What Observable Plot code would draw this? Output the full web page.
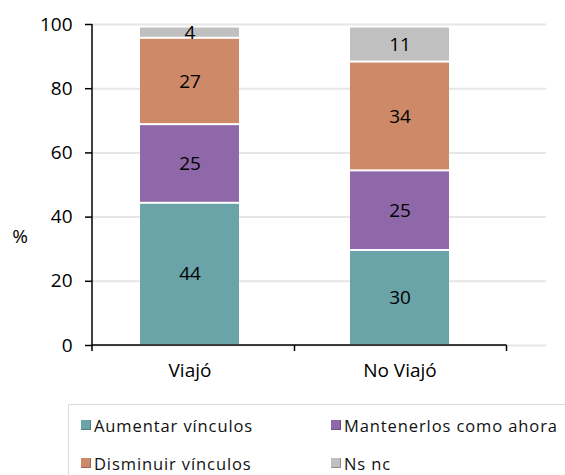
<!DOCTYPE html>
<html>
<head>
<meta charset="utf-8">
<script src="https://cdn.jsdelivr.net/npm/d3@7"></script>
<script src="https://cdn.jsdelivr.net/npm/@observablehq/plot@0.6"></script>
<style>
  html, body { margin: 0; padding: 0; background: #fff; }
  body { width: 565px; height: 475px; overflow: hidden; position: relative; font-family: "Open Sans", sans-serif; }
  #legend {
    position: absolute; left: 68px; top: 404px; width: 520px; height: 90px;
    border: 1.5px solid #dcdcdc; box-sizing: border-box;
  }
  .item { position: absolute; display: flex; align-items: center; font-size: 16.5px; letter-spacing: 0.9px; color: #111; white-space: nowrap; }
  .sw { width: 10px; height: 10px; margin-right: 3px; box-sizing: border-box; border-right: 1.5px solid rgba(0,0,0,0.25); border-bottom: 1.5px solid rgba(0,0,0,0.25); }
</style>
</head>
<body>
<div id="chart"></div>
<div id="legend"></div>
<script>
const categories = ["Viajó", "No Viajó"];
const series = ["Aumentar vínculos", "Mantenerlos como ahora", "Disminuir vínculos", "Ns nc"];
const viajoValues = [44.3, 24.5, 26.9, 3.5];
const noViajoValues = [29.6, 24.8, 33.9, 10.9];
const seriesColors = ["#6aa4a8", "#8e68a8", "#cd8968", "#c0c0c0"];
const yTicks = [0, 20, 40, 60, 80, 100];

const data = [];
series.forEach((s, i) => {
  data.push({cat: categories[0], series: s, value: viajoValues[i]});
  data.push({cat: categories[1], series: s, value: noViajoValues[i]});
});

const font = "Open Sans, sans-serif";
const plot = Plot.plot({
  width: 565,
  height: 400,
  marginLeft: 92,
  marginRight: 19,
  marginTop: 24,
  marginBottom: 55,
  style: {fontFamily: font, background: "transparent", color: "#000"},
  x: {domain: categories, range: [92, 496], paddingInner: 0.53, paddingOuter: 0.226},
  y: {domain: [0, 100]},
  color: {domain: series, range: seriesColors},
  marks: [
    Plot.gridY(yTicks, {stroke: "#e6e6e6", strokeOpacity: 1, strokeWidth: 2}),
    Plot.barY(data, {x: "cat", y: "value", z: "series", fill: "series", insetTop: 1, insetBottom: 1}),
    Plot.text(data, Plot.stackY({x: "cat", y: "value", z: "series", text: d => String(Math.round(d.value)), fontSize: 19, fill: "#000"})),
    Plot.axisY(yTicks, {tickSize: 7, tickPadding: 13, fontSize: 19, label: null, stroke: "#000", strokeWidth: 1.5}),
    Plot.axisX({tickSize: 0, tickPadding: 18, fontSize: 19, label: null})
  ]
});
document.getElementById("chart").appendChild(plot);

// axis lines and category boundary ticks, derived from the plot's scales
const sx = plot.scale("x"), sy = plot.scale("y");
const bw = sx.bandwidth;
const x0 = sx.apply(categories[0]), x1 = sx.apply(categories[1]);
const left = sx.range[0];
const mid = (x0 + bw + x1) / 2;
const right = x1 + bw + (x1 - mid) + 2;
const yZero = sy.apply(0), yTop = sy.apply(100);
const svg = d3.select(plot);
const g = svg.append("g").attr("stroke", "#000").attr("stroke-width", 1.5).attr("fill", "none");
g.append("line").attr("x1", left).attr("x2", left).attr("y1", yTop).attr("y2", yZero + 6);
g.append("line").attr("x1", left).attr("x2", right).attr("y1", yZero).attr("y2", yZero);
[mid, right].forEach(x => g.append("line").attr("x1", x).attr("x2", x).attr("y1", yZero).attr("y2", yZero + 6));
svg.append("text").attr("x", 20).attr("y", sy.apply(34)).attr("dy", "0.35em")
  .attr("text-anchor", "middle").attr("font-size", 19).attr("font-family", font).attr("fill", "#000").text("%");

// legend
const legend = document.getElementById("legend");
const pos = [[12, 20], [262, 20], [12, 58], [262, 58]];
series.forEach((s, i) => {
  const it = document.createElement("div");
  it.className = "item";
  it.style.left = pos[i][0] + "px";
  it.style.top = (pos[i][1] - 12) + "px";
  it.style.height = "24px";
  const sw = document.createElement("span");
  sw.className = "sw";
  sw.style.background = seriesColors[i];
  const t = document.createElement("span");
  t.textContent = s;
  it.appendChild(sw); it.appendChild(t);
  legend.appendChild(it);
});
</script>
</body>
</html>
